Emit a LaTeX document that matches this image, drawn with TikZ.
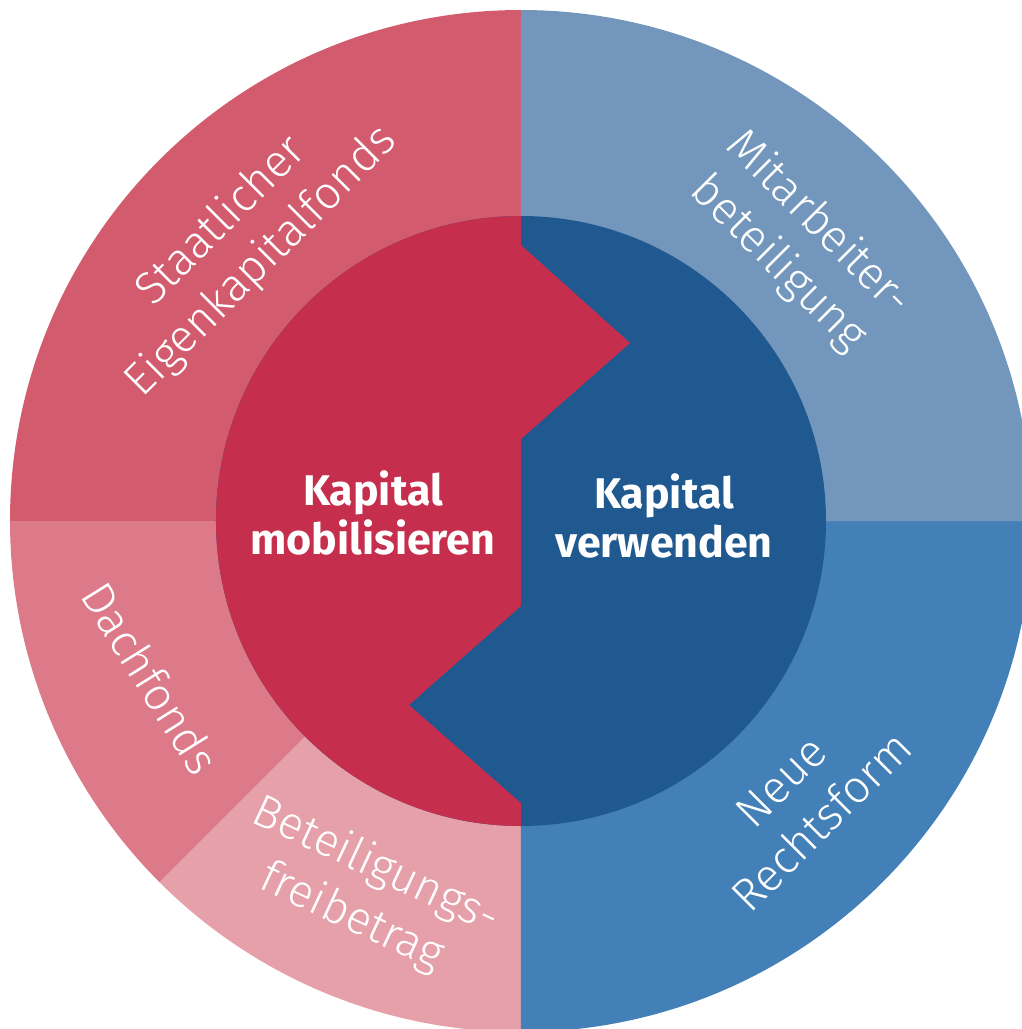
\documentclass[tikz,border=0pt]{standalone}
\usepackage{fontspec}
\setmainfont{Fira Sans}
\newfontfamily\lightfont{Fira Sans Light}
\definecolor{staatcol}{HTML}{D35B6E}
\definecolor{dachcol}{HTML}{DC7A8A}
\definecolor{freicol}{HTML}{E6A0AA}
\definecolor{mitarbcol}{HTML}{7397BC}
\definecolor{rechtscol}{HTML}{4380B8}
\definecolor{redcore}{HTML}{C52E4C}
\definecolor{bluecore}{HTML}{1F598F}
\tikzset{
  seglabel/.style={text=white, align=center, inner sep=0pt, font=\lightfont\fontsize{13}{16.2}\selectfont},
  corelabel/.style={text=white, align=center, inner sep=0pt, font=\bfseries\fontsize{12.2}{13.8}\selectfont},
}

\begin{document}
\begin{tikzpicture}[x=0.01cm, y=0.01cm]
  \useasboundingbox (-521,-508) rectangle (501,521);
  \fill[staatcol] (0,0) -- (90:511) arc[start angle=90, end angle=180, radius=511] -- cycle;
  \fill[dachcol] (0,0) -- (180:511) arc[start angle=180, end angle=225, radius=511] -- cycle;
  \fill[freicol] (0,0) -- (225:511) arc[start angle=225, end angle=270, radius=511] -- cycle;
  \fill[rechtscol] (0,0) -- (270:511) arc[start angle=270, end angle=360, radius=511] -- cycle;
  \fill[mitarbcol] (0,0) -- (0:511) arc[start angle=0, end angle=90, radius=511] -- cycle;
  \fill[bluecore] (0,0) circle[radius=305];
  \fill[redcore] (90:305) arc[start angle=90, end angle=270, radius=305]
    -- (0,-282) -- (-112,-184) -- (0,-85) -- (0,82) -- (109,178) -- (0,276) -- cycle;
  \node[corelabel] (mobil) at (-148,8) {Kapital\\mobilisieren};
  \node[corelabel] (verwend) at (143,5) {Kapital\\verwenden};
  \node[seglabel, rotate=45] (staat) at (135:395) {Staatlicher\\Eigenkapitalfonds};
  \node[seglabel, rotate=-45] (mitarb) at (45:392) {Mitarbeiter-\\beteiligung};
  \node[seglabel, rotate=-58] (dach) at (203:402) {Dachfonds};
  \node[seglabel, rotate=-25] (freibetr) at (247:403) {Beteiligungs-\\freibetrag};
  \node[seglabel, rotate=45] (rechts) at (-45:397) {Neue\\Rechtsform};
\end{tikzpicture}
\end{document}
